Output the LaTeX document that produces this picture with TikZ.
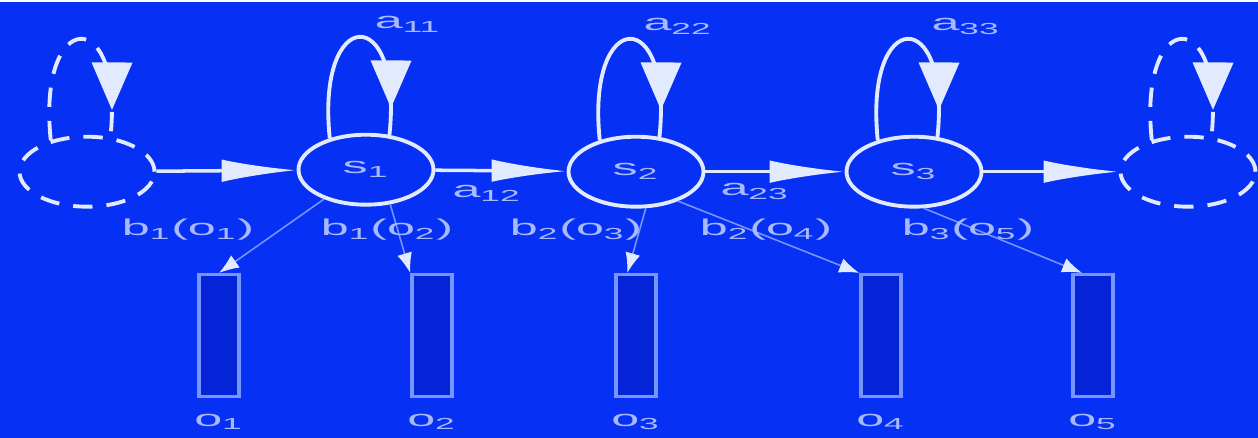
\documentclass[tikz,border=0pt]{standalone}
\usepackage{fontspec}
\setmainfont{Liberation Sans}
\usepackage{graphicx}
\usetikzlibrary{shapes.geometric, arrows.meta, positioning, decorations.markings, calc}

\definecolor{slidebg}{HTML}{0630F3}
\definecolor{linewhite}{HTML}{E2EAFF}
\definecolor{labelblue}{HTML}{A8BAFF}
\definecolor{obsblue}{HTML}{7894FF}
\definecolor{obsfill}{HTML}{0524D8}

\newcommand{\wide}[1]{\scalebox{2.2}[1]{#1}}

\begin{document}
\begin{tikzpicture}[
    x=0.02cm, y=-0.02cm,
    state/.style={ellipse, draw=linewhite, line width=2.2pt, minimum width=2.7cm, minimum height=1.4cm, inner sep=0pt, text=labelblue, font=\fontsize{13}{15}\selectfont},
    ghost/.style={state, dash pattern=on 11pt off 8pt},
    obs/.style={rectangle, draw=obsblue, fill=obsfill, line width=2pt, minimum width=0.8cm, minimum height=2.44cm, inner sep=0pt},
    lbl/.style={text=labelblue, font=\fontsize{13}{15}\selectfont, inner sep=0pt},
    arrow/.style={draw=linewhite, line width=2pt, -{Latex[length=1.5cm, width=0.45cm]}},
    emit/.style={draw=obsblue, line width=0.9pt, -{Latex[length=0.4cm, width=0.3cm, color=linewhite]}},
    selfloop/.style={draw=linewhite, line width=2.2pt, postaction={decorate},
      decoration={markings, mark=at position 0.88 with {\arrow[linewhite]{Triangle[length=0.95cm, width=0.8cm]}}}}
  ]
    % background
    \fill[slidebg] (0,0) rectangle (1258,436);

    % States
    \node[ghost] (s0) at (87,170) {};
    \node[state] (s1) at (366,168) {\wide{s\textsubscript{1}}};
    \node[state] (s2) at (636,170) {\wide{s\textsubscript{2}}};
    \node[state] (s3) at (914,170) {\wide{s\textsubscript{3}}};
    \node[ghost] (s4) at (1188,170) {};

    % Observations
    \node[obs] (o1) at (219,334) {};
    \node[obs] (o2) at (432,334) {};
    \node[obs] (o3) at (636,334) {};
    \node[obs] (o4) at (881,334) {};
    \node[obs] (o5) at (1093,334) {};

    % Self loops
    \draw[selfloop, dash pattern=on 11pt off 8pt] (s0.139) .. controls +(-14,-133) and +(14,-133) .. (s0.56);
    \draw[selfloop] (s1.139) .. controls +(-14,-133) and +(14,-133) .. (s1.56);
    \draw[selfloop] (s2.139) .. controls +(-14,-133) and +(14,-133) .. (s2.56);
    \draw[selfloop] (s3.139) .. controls +(-14,-133) and +(14,-133) .. (s3.56);
    \draw[selfloop, dash pattern=on 11pt off 8pt] (s4.139) .. controls +(-14,-133) and +(14,-133) .. (s4.56);

    % Transitions
    \draw[arrow] (s0) -- (s1);
    \draw[arrow] (s1) -- (s2);
    \draw[arrow] (s2) -- (s3);
    \draw[arrow] (s3) -- (s4);

    % Emissions
    \draw[emit] (s1.215) -- (o1.north);
    \draw[emit] (s1.-55) -- (o2.north west);
    \draw[emit] (s2.-75) -- ($(o3.north west)!0.3!(o3.north east)$);
    \draw[emit] (s2.-35) -- (o4.north west);
    \draw[emit] (s3.-75) -- ($(o5.north west)!0.25!(o5.north east)$);

    % Labels
    \node[lbl] (a11) at (408,23) {\wide{a\textsubscript{11}}};
    \node[lbl] (a22) at (678,25) {\wide{a\textsubscript{22}}};
    \node[lbl] (a33) at (966,25) {\wide{a\textsubscript{33}}};
    \node[lbl] (a12) at (487,192) {\wide{a\textsubscript{12}}};
    \node[lbl] (a23) at (755,190) {\wide{a\textsubscript{23}}};
    \node[lbl] (b11) at (188,228) {\wide{b\textsubscript{1}(o\textsubscript{1})}};
    \node[lbl] (b12) at (387,228) {\wide{b\textsubscript{1}(o\textsubscript{2})}};
    \node[lbl] (b23) at (576,228) {\wide{b\textsubscript{2}(o\textsubscript{3})}};
    \node[lbl] (b24) at (766,228) {\wide{b\textsubscript{2}(o\textsubscript{4})}};
    \node[lbl] (b35) at (968,228) {\wide{b\textsubscript{3}(o\textsubscript{5})}};
    \node[lbl, below=0.3cm of o1] {\wide{o\textsubscript{1}}};
    \node[lbl, below=0.3cm of o2] {\wide{o\textsubscript{2}}};
    \node[lbl, below=0.3cm of o3] {\wide{o\textsubscript{3}}};
    \node[lbl, below=0.3cm of o4] {\wide{o\textsubscript{4}}};
    \node[lbl, below=0.3cm of o5] {\wide{o\textsubscript{5}}};
\end{tikzpicture}
\end{document}
